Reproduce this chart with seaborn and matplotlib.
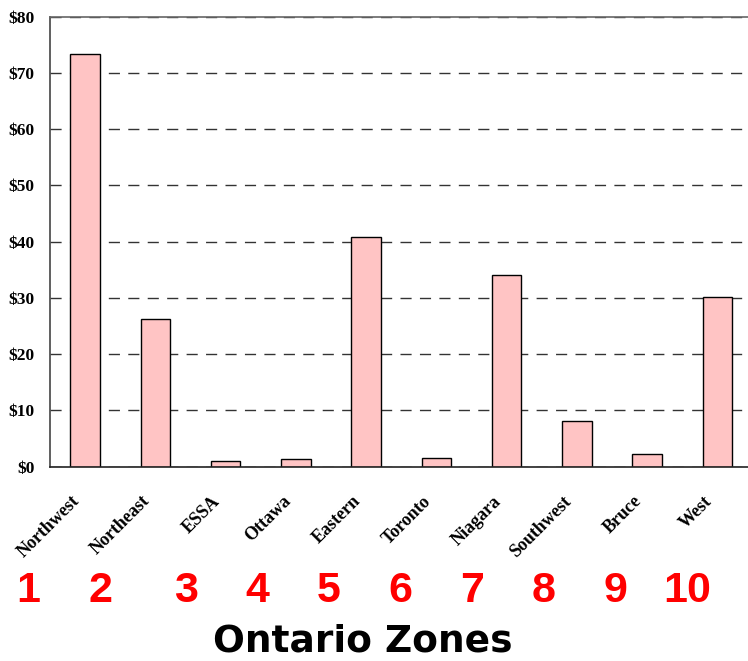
import matplotlib
matplotlib.use("Agg")
import matplotlib.pyplot as plt
import matplotlib.transforms as mtransforms
import seaborn as sns
import pandas as pd

zones = ["Northwest", "Northeast", "ESSA", "Ottawa", "Eastern",
         "Toronto", "Niagara", "Southwest", "Bruce", "West"]
values = [73.4, 26.3, 1.1, 1.3, 40.8, 1.6, 34.0, 8.2, 2.2, 30.2]
zone_numbers = ["1", "2", "3", "4", "5", "6", "7", "8", "9", "10"]
y_ticks = [0, 10, 20, 30, 40, 50, 60, 70, 80]
y_tick_labels = ["$" + str(v) for v in y_ticks]
title = "Ontario Zones"

# layout only: horizontal offset of the red numbers from their category
num_offsets = [-0.81, -0.775, -0.565, -0.545, -0.527, -0.517, -0.492, -0.47, -0.447, -0.43]

df = pd.DataFrame({"zone": zones, "value": values})

sns.set_style("white")
plt.rcParams["font.family"] = ["DejaVu Sans"]
plt.rcParams["text.color"] = "black"

fig = plt.figure(figsize=(7.48, 6.61), dpi=100)
W, H = 748, 661
ax = fig.add_axes([50 / W, (H - 466.7) / H, 702.6 / W, 450 / H])

sns.barplot(data=df, x="zone", y="value", color="#ffc4c4", saturation=1,
            edgecolor="black", linewidth=1.0, width=0.42, ax=ax)

ax.set_xlim(-0.5, 9.5)
ax.set_ylim(0, 80)
ax.set_axisbelow(True)
ax.yaxis.grid(True, linestyle=(0, (8, 6)), color="#333333", linewidth=1.0)
ax.xaxis.grid(False)

for side in ["top", "left", "bottom"]:
    ax.spines[side].set_visible(True)
    ax.spines[side].set_color("#666666")
    ax.spines[side].set_linewidth(1.2)
ax.spines["bottom"].set_color("#222222")
ax.spines["left"].set_color("#444444")
ax.spines["right"].set_visible(False)

ax.set_yticks(y_ticks)
ax.set_yticklabels(y_tick_labels, fontfamily="Liberation Serif",
                   fontweight="bold", fontsize=12.5, color="black")
ax.tick_params(axis="y", direction="out", length=5, width=1, color="#333333", pad=6)

ax.set_xticks(range(len(zones)))
ax.set_xticklabels(zones, rotation=45, ha="right", va="center",
                   rotation_mode="anchor", fontfamily="Liberation Serif",
                   fontweight="bold", fontsize=13, color="black")
ax.tick_params(axis="x", which="major", length=0, pad=23)
ax.set_xticks([i - 0.5 for i in range(len(zones) + 1)], minor=True)
ax.tick_params(axis="x", which="minor", direction="out", length=6, width=1, color="#333333")
shift = mtransforms.ScaledTranslation(-8 / 100, 0, fig.dpi_scale_trans)
for lbl in ax.get_xticklabels():
    lbl.set_transform(lbl.get_transform() + shift)

ax.set_xlabel("")
ax.set_ylabel("")

blend = mtransforms.blended_transform_factory(ax.transData, fig.transFigure)
for i, (num, off) in enumerate(zip(zone_numbers, num_offsets)):
    ax.text(i + off, 1 - 591 / H, num, transform=blend, color="red",
            fontfamily="Liberation Sans", fontweight="bold", fontsize=31,
            ha="center", va="center", clip_on=False)

fig.text(363 / W, 1 - 642 / H, title, fontfamily="DejaVu Sans", color="black",
         fontweight="bold", fontsize=27, ha="center", va="center")

fig.savefig("out.png", dpi=100)
